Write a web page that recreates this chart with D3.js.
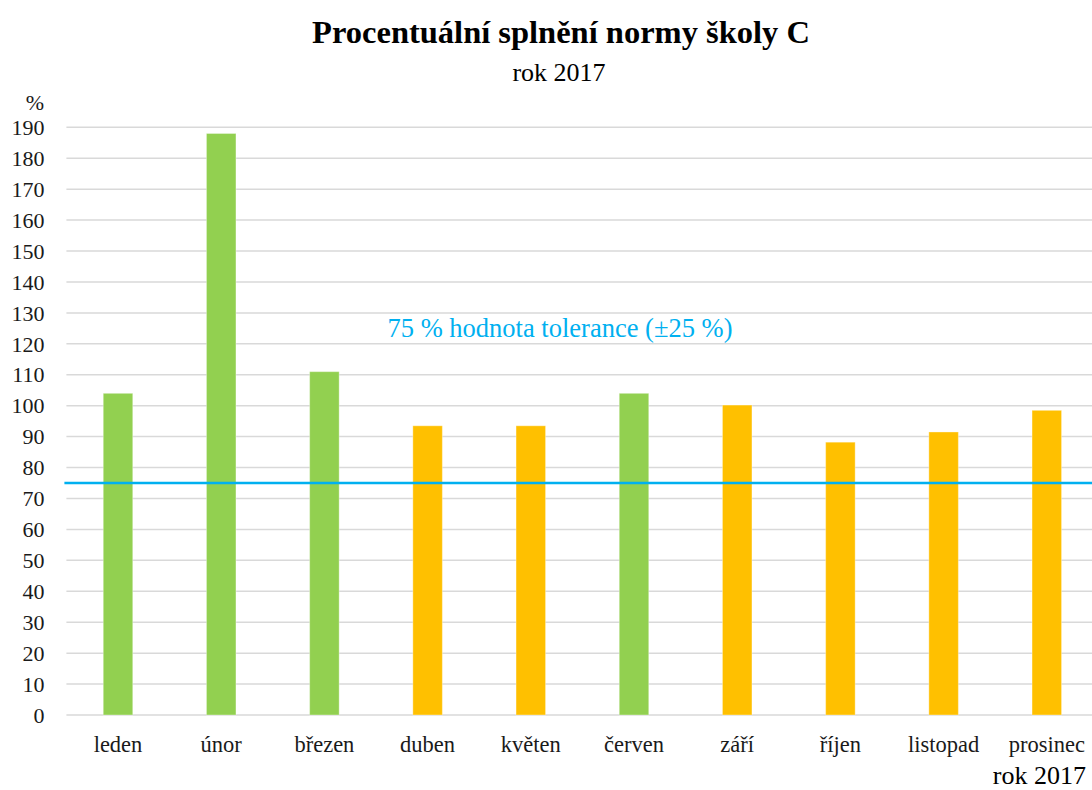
<!DOCTYPE html>
<html><head><meta charset="utf-8">
<script src="https://cdn.jsdelivr.net/npm/d3@7"></script>
<style>body{margin:0;background:#fff}svg{display:block}</style>
</head><body>
<svg id="c" width="1092" height="790" font-family="'Liberation Serif', serif"></svg>
<script>
const months = ["leden","únor","březen","duben","květen","červen","září","říjen","listopad","prosinec"];
const values = [104, 188, 111, 93.5, 93.5, 104, 100.2, 88.2, 91.5, 98.5];
const groups = ["A","A","A","B","B","A","B","B","B","B"];
const yTicks = d3.range(0, 191, 10);
const tolerance = 75;
const title = "Procentuální splnění normy školy C";
const subtitle = "rok 2017";
const toleranceLabel = "75 % hodnota tolerance (±25 %)";

const FONT = "'Liberation Serif', serif";
const svg = d3.select("#c");
const pLeft = 66.4, pRight = 1098.4, pTop = 127.3, pBottom = 715;
const x = d3.scaleBand().domain(months).range([pLeft, pRight]).paddingInner(0.714).paddingOuter(0.357);
const y = d3.scaleLinear().domain([0, 190]).range([pBottom, pTop]);
const color = d3.scaleOrdinal().domain(["A","B"]).range(["#92D050","#FFC000"]);

// gridlines
svg.append("g").selectAll("line").data(yTicks).join("line")
  .attr("x1", pLeft).attr("x2", 1092)
  .attr("y1", d => y(d)).attr("y2", d => y(d))
  .attr("stroke", "#d9d9d9").attr("stroke-width", 1.5);

// y tick labels
svg.append("g").selectAll("text").data(yTicks).join("text")
  .attr("font-family", FONT)
  .attr("x", 44.5).attr("y", d => y(d)).attr("dy", "0.35em")
  .attr("text-anchor", "end").attr("font-size", 22).attr("fill", "#1a1a1a")
  .text(d => d);
svg.append("text").attr("font-family", FONT).attr("x", 44).attr("y", y(190) - 25).attr("dy","0.35em")
  .attr("text-anchor","end").attr("font-size", 22).attr("fill","#1a1a1a").text("%");

// bars
svg.append("g").selectAll("rect").data(months).join("rect")
  .attr("x", d => x(d)).attr("width", x.bandwidth())
  .attr("y", (d,i) => y(values[i])).attr("height", (d,i) => y(0) - y(values[i]))
  .attr("fill", (d,i) => color(groups[i]))
  .attr("stroke", "#ffffff").attr("stroke-opacity", 0.35).attr("stroke-width", 1);

// category labels
svg.append("g").selectAll("text").data(months).join("text")
  .attr("font-family", FONT)
  .attr("x", d => x(d) + x.bandwidth()/2).attr("y", 752)
  .attr("text-anchor","middle").attr("font-size", 22.5).attr("fill","#1a1a1a")
  .text(d => d);

// tolerance line
svg.append("line").attr("x1", pLeft - 2).attr("x2", 1092)
  .attr("y1", y(tolerance)).attr("y2", y(tolerance))
  .attr("stroke", "#00B0F0").attr("stroke-width", 2.5);
svg.append("text").attr("font-family", FONT).attr("x", 560).attr("y", 337)
  .attr("text-anchor","middle").attr("font-size", 26.5).attr("fill","#00B0F0")
  .text(toleranceLabel);

// titles
svg.append("text").attr("font-family", FONT).attr("x", 561).attr("y", 43).attr("text-anchor","middle")
  .attr("font-size", 32.5).attr("font-weight","bold").attr("fill","#000").text(title);
svg.append("text").attr("font-family", FONT).attr("x", 559).attr("y", 81).attr("text-anchor","middle")
  .attr("font-size", 26).attr("fill","#000").text(subtitle);
svg.append("text").attr("font-family", FONT).attr("x", 1086).attr("y", 784).attr("text-anchor","end")
  .attr("font-size", 26).attr("fill","#000").text(subtitle);
</script>
</body></html>
